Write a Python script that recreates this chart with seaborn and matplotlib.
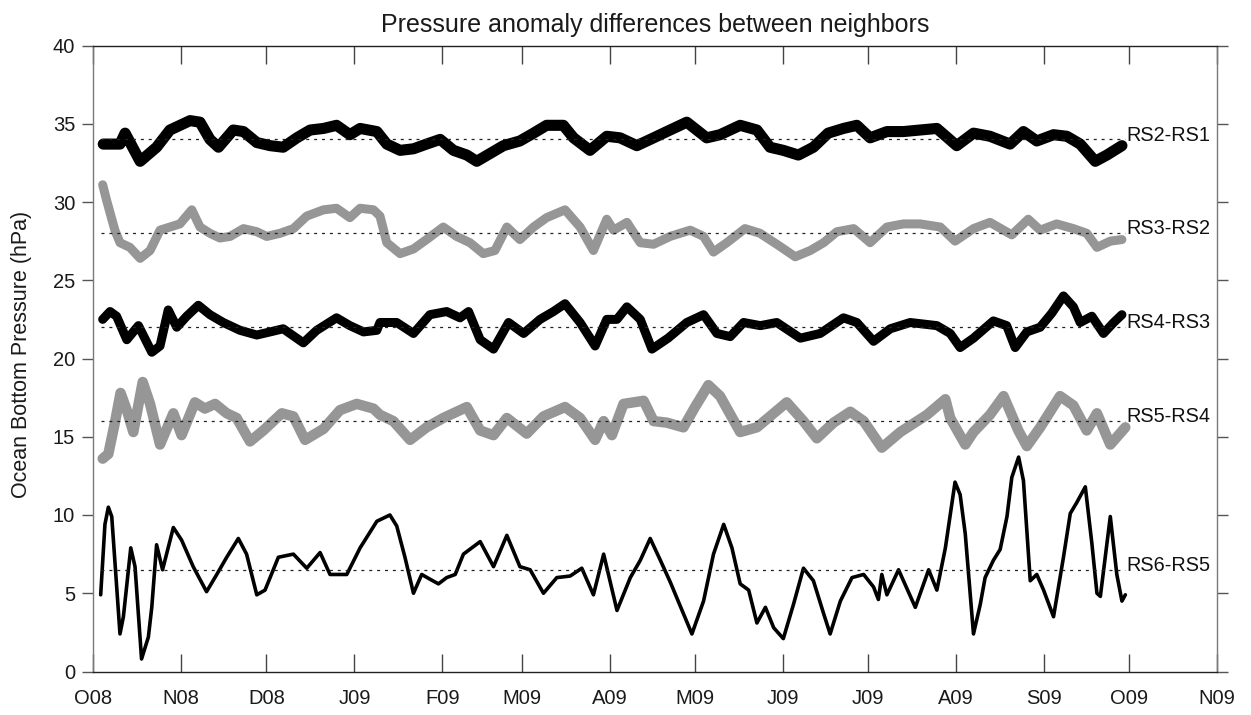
import numpy as np
import pandas as pd
import matplotlib
matplotlib.use("Agg")
import matplotlib.pyplot as plt
import matplotlib.dates as mdates
import seaborn as sns

# ---------------- data ----------------
START = pd.Timestamp("2008-10-01")
END = pd.Timestamp("2009-11-01")

month_labels = ["O08", "N08", "D08", "J09", "F09", "M09", "A09",
                "M09", "J09", "J09", "A09", "S09", "O09", "N09"]
y_ticks = [0, 5, 10, 15, 20, 25, 30, 35, 40]

series_names = ["RS2-RS1", "RS3-RS2", "RS4-RS3", "RS5-RS4", "RS6-RS5"]
ref_levels = [34.0, 28.0, 22.0, 16.0, 6.5]

# days since 2008-10-01 and hPa values
rs21_days = [3.5, 9.4, 11.2, 16.5, 22.3, 27.0, 34.1, 37.6, 41.1, 44.1, 49.3, 52.9, 57.6, 62.3,
             66.9, 71.7, 76.4, 81.1, 85.7, 90.4, 94.0, 99.9, 103.4, 108.1, 112.8, 117.4, 122.2,
             126.9, 131.6, 135.1, 139.8, 144.5, 150.3, 155.1, 159.7, 165.6, 169.2, 175.0, 180.9,
             185.6, 191.5, 197.4, 203.2, 209.1, 216.1, 220.8, 227.9, 233.8, 238.4, 243.1, 248.4,
             253.7, 258.9, 264.3, 269.0, 273.7, 279.6, 285.4, 291.3, 297.2, 304.2, 310.1, 315.9,
             323.0, 327.7, 332.4, 338.3, 343.0, 347.7, 353.0, 357.1, 362.4]
rs21_vals = [33.7, 33.7, 34.4, 32.6, 33.5, 34.6, 35.2, 35.1, 34.0, 33.5, 34.6, 34.5, 33.8, 33.6,
             33.5, 34.1, 34.6, 34.7, 34.9, 34.3, 34.7, 34.5, 33.7, 33.3, 33.4, 33.7, 34.0,
             33.3, 33.0, 32.6, 33.1, 33.6, 33.9, 34.4, 34.9, 34.9, 34.1, 33.3, 34.2,
             34.1, 33.6, 34.1, 34.6, 35.1, 34.1, 34.3, 34.9, 34.6, 33.5, 33.3, 33.0,
             33.5, 34.4, 34.7, 34.9, 34.1, 34.5, 34.5, 34.6, 34.7, 33.6, 34.4, 34.2,
             33.7, 34.5, 33.9, 34.3, 34.2, 33.7, 32.6, 33.0, 33.6]

rs32_days = [3.3, 4.7, 7.6, 9.4, 12.9, 16.5, 20.0, 23.5, 27.0, 30.5, 34.7, 37.6, 41.1, 44.6,
             48.2, 52.9, 57.6, 61.1, 65.8, 70.5, 75.2, 81.1, 85.7, 90.4, 94.0, 98.7, 101.0,
             103.4, 108.1, 112.8, 117.4, 123.3, 128.0, 132.7, 137.4, 141.5, 145.7, 150.3, 155.1,
             159.7, 166.2, 171.5, 176.2, 180.9, 183.3, 188.0, 192.7, 197.4, 203.2, 210.3, 215.0,
             218.5, 223.2, 229.6, 234.9, 240.8, 247.3, 252.6, 257.3, 262.0, 267.9, 273.7, 279.6,
             285.4, 291.3, 298.4, 303.6, 310.1, 315.9, 323.6, 329.4, 333.6, 339.4, 345.3, 350.0,
             353.6, 358.3, 362.4]
rs32_vals = [31.1, 30.1, 28.2, 27.4, 27.1, 26.4, 26.9, 28.2, 28.4, 28.6, 29.5, 28.4, 28.0, 27.7,
             27.8, 28.3, 28.1, 27.8, 28.0, 28.3, 29.1, 29.5, 29.6, 29.0, 29.6, 29.5, 29.1,
             27.4, 26.7, 27.0, 27.6, 28.4, 27.8, 27.4, 26.7, 26.9, 28.4, 27.6, 28.4,
             29.0, 29.5, 28.4, 26.9, 28.9, 28.2, 28.7, 27.4, 27.3, 27.8, 28.2, 27.8,
             26.8, 27.4, 28.3, 28.0, 27.3, 26.5, 26.9, 27.4, 28.1, 28.3, 27.4, 28.4,
             28.6, 28.6, 28.4, 27.5, 28.3, 28.7, 27.9, 28.9, 28.2, 28.6, 28.3, 28.0,
             27.1, 27.5, 27.6]

rs43_days = [3.3, 5.9, 8.2, 11.8, 15.9, 20.6, 23.5, 26.4, 29.4, 32.9, 37.0, 41.1, 45.8, 51.7,
             57.6, 62.3, 66.9, 74.0, 78.7, 85.7, 90.4, 95.2, 99.9, 101.0, 106.9, 112.8, 118.6,
             124.5, 129.2, 132.2, 136.3, 141.0, 146.3, 151.6, 157.4, 162.1, 166.2, 171.5, 176.8,
             180.9, 184.5, 188.0, 192.7, 196.8, 202.5, 209.1, 215.0, 219.7, 224.4, 229.1, 235.0,
             240.8, 249.1, 256.1, 264.3, 269.0, 274.9, 280.8, 287.8, 297.2, 301.9, 305.4, 310.1,
             317.1, 321.8, 324.8, 328.9, 333.6, 337.7, 341.8, 345.3, 347.7, 351.8, 355.9, 359.5,
             362.4]
rs43_vals = [22.5, 23.0, 22.7, 21.2, 22.1, 20.4, 20.8, 23.1, 22.0, 22.7, 23.4, 22.8, 22.3, 21.8,
             21.5, 21.7, 21.9, 21.0, 21.8, 22.6, 22.1, 21.7, 21.8, 22.3, 22.3, 21.6, 22.8,
             23.0, 22.6, 23.0, 21.2, 20.6, 22.3, 21.6, 22.5, 23.0, 23.5, 22.3, 20.8,
             22.5, 22.5, 23.3, 22.5, 20.6, 21.3, 22.3, 22.8, 21.6, 21.4, 22.3, 22.1,
             22.3, 21.3, 21.6, 22.6, 22.3, 21.1, 21.9, 22.3, 22.1, 21.6, 20.7, 21.3,
             22.4, 22.1, 20.7, 21.7, 22.0, 22.9, 24.0, 23.3, 22.3, 22.7, 21.6, 22.3,
             22.8]

rs54_days = [3.3, 5.3, 7.6, 9.6, 11.8, 14.1, 17.4, 20.0, 23.5, 28.2, 31.1, 35.8, 39.3, 42.9,
             47.0, 50.5, 55.2, 59.9, 66.4, 70.5, 74.6, 81.1, 86.9, 92.8, 98.7, 101.0, 105.7,
             111.6, 117.4, 123.3, 131.6, 136.3, 141.0, 145.7, 152.7, 158.6, 166.2, 171.5, 176.8,
             179.8, 182.7, 186.8, 193.9, 197.4, 202.1, 207.9, 212.0, 216.7, 220.8, 227.9, 233.8,
             238.4, 244.3, 250.2, 254.9, 260.8, 266.7, 271.4, 277.8, 284.3, 293.7, 300.2, 301.9,
             307.2, 310.1, 315.9, 320.7, 325.9, 328.9, 333.6, 340.6, 345.3, 350.0, 353.6, 358.3,
             363.6]
rs54_vals = [13.6, 13.9, 15.9, 17.8, 16.7, 15.3, 18.5, 17.1, 14.5, 16.5, 15.1, 17.2, 16.8, 17.1,
             16.5, 16.2, 14.7, 15.4, 16.5, 16.3, 14.8, 15.5, 16.7, 17.1, 16.8, 16.4, 16.0,
             14.8, 15.6, 16.2, 16.9, 15.4, 15.1, 16.2, 15.2, 16.3, 16.9, 16.2, 14.8,
             16.0, 15.1, 17.1, 17.3, 16.0, 15.9, 15.6, 16.9, 18.3, 17.6, 15.3, 15.6,
             16.3, 17.2, 16.0, 14.9, 15.9, 16.6, 16.0, 14.3, 15.3, 16.4, 17.4, 16.2,
             14.5, 15.3, 16.4, 17.6, 15.4, 14.4, 15.6, 17.6, 17.0, 15.4, 16.5, 14.5,
             15.6]

rs65_days = [2.6, 4.1, 5.3, 6.5, 9.4, 10.6, 13.2, 14.7, 17.0, 19.4, 20.6, 22.3, 24.4, 28.2,
             31.1, 35.2, 39.9, 43.5, 47.0, 51.1, 54.0, 57.6, 60.5, 65.2, 70.5, 75.2, 79.9,
             83.4, 89.3, 94.0, 99.9, 104.5, 106.9, 109.8, 112.8, 115.7, 118.6, 121.6, 124.5,
             127.5, 130.4, 136.3, 141.0, 145.7, 150.3, 153.9, 158.6, 163.3, 168.0, 172.1, 176.2,
             179.8, 184.5, 189.2, 192.7, 196.2, 199.8, 203.3, 207.9, 210.9, 215.0, 218.5, 222.1,
             225.0, 227.9, 230.9, 233.8, 236.8, 239.7, 243.1, 246.7, 250.2, 253.7, 257.3, 259.6,
             263.2, 267.3, 271.4, 274.9, 276.6, 277.8, 279.6, 283.7, 289.6, 294.3, 297.2, 300.2,
             303.6, 305.4, 307.2, 310.1, 312.5, 314.2, 317.1, 319.5, 321.9, 323.6, 326.0, 327.7,
             330.1, 332.4, 334.8, 338.3, 341.8, 344.2, 346.5, 349.5, 351.8, 353.6, 354.8, 358.3,
             360.6, 362.4, 363.6]
rs65_vals = [4.9, 9.4, 10.5, 9.9, 2.4, 3.5, 7.9, 6.7, 0.8, 2.2, 4.1, 8.1, 6.5, 9.2,
             8.4, 6.7, 5.1, 6.2, 7.3, 8.5, 7.5, 4.9, 5.2, 7.3, 7.5, 6.6, 7.6,
             6.2, 6.2, 7.9, 9.6, 10.0, 9.3, 7.3, 5.0, 6.2, 5.9, 5.6, 6.0,
             6.2, 7.5, 8.3, 6.7, 8.7, 6.7, 6.5, 5.0, 6.0, 6.1, 6.6, 4.9,
             7.5, 3.9, 6.0, 7.1, 8.5, 7.1, 5.7, 3.7, 2.4, 4.5, 7.5, 9.4,
             7.9, 5.6, 5.2, 3.1, 4.1, 2.8, 2.1, 4.3, 6.6, 5.8, 3.7, 2.4,
             4.5, 6.0, 6.2, 5.4, 4.6, 6.2, 4.9, 6.5, 4.1, 6.5, 5.2, 7.9,
             12.1, 11.3, 8.8, 2.4, 4.3, 6.0, 7.1, 7.8, 9.9, 12.4, 13.7, 12.2,
             5.8, 6.2, 5.2, 3.5, 7.3, 10.1, 10.8, 11.8, 8.2, 5.0, 4.8, 9.9,
             6.2, 4.5, 4.9]

all_days = [rs21_days, rs32_days, rs43_days, rs54_days, rs65_days]
all_vals = [rs21_vals, rs32_vals, rs43_vals, rs54_vals, rs65_vals]

# ---------------- styling ----------------
BLACK = "#000000"
GREY = "#969696"
line_colors = [BLACK, GREY, BLACK, GREY, BLACK]
line_widths = [8.0, 6.5, 6.5, 7.5, 2.6]

sns.set_theme(style="ticks")
plt.rcParams["font.family"] = ["Liberation Sans", "DejaVu Sans"]
plt.rcParams["axes.linewidth"] = 1.0

frames = []
for name, d, v in zip(series_names, all_days, all_vals):
    frames.append(pd.DataFrame({
        "date": START + pd.to_timedelta(np.asarray(d, dtype=float), unit="D"),
        "value": v,
        "pair": name,
    }))
df = pd.concat(frames, ignore_index=True)

W, H = 1251, 715
fig = plt.figure(figsize=(W / 100, H / 100), dpi=100)
L, R, T, B = 93.3, 1217.3, 45.5, 671.5
ax = fig.add_axes([L / W, 1 - B / H, (R - L) / W, (B - T) / H])

for name, col, lw in zip(series_names, line_colors, line_widths):
    sub = df[df["pair"] == name]
    sns.lineplot(data=sub, x="date", y="value", color=col, linewidth=lw,
                 estimator=None, sort=False, ax=ax, legend=False, zorder=2)

# dotted reference levels across the data span
x_first = mdates.date2num(df["date"].min())
x_last = mdates.date2num(df["date"].max())
for ref in ref_levels:
    ax.hlines(ref, x_first, x_last, colors="#222222", linestyles=(0, (2.4, 3.9)),
              linewidth=0.9, zorder=3)

# pair labels at the right end of each series
for name, ref in zip(series_names, ref_levels):
    ax.annotate(name, xy=(x_last, ref), xytext=(0.6, -0.8), textcoords="offset points",
                ha="left", va="baseline", fontsize=14.3, color="#111111", zorder=4)

ax.set_xlim(mdates.date2num(START), mdates.date2num(END))
ax.set_ylim(0, 40)
month_ticks = pd.date_range(START, END, freq="MS")
ax.set_xticks(mdates.date2num(month_ticks))
ax.set_xticklabels(month_labels)
ax.set_yticks(y_ticks)
ax.set_yticklabels([str(t) for t in y_ticks])

ax.tick_params(axis="x", which="major", direction="in", length=13, width=1,
               top=True, bottom=True, labeltop=False, labelsize=14.5,
               pad=12.5, colors="#444444", labelcolor="#1a1a1a")
ax.tick_params(axis="y", which="major", direction="out", length=8, width=1,
               left=True, right=True, labelright=False, labelsize=14.5,
               pad=5, colors="#555555", labelcolor="#1a1a1a")
ax.minorticks_off()

for side in ["left", "right"]:
    ax.spines[side].set_color("#7a7a7a")
for side in ["top", "bottom"]:
    ax.spines[side].set_color("#222222")
for s in ax.spines.values():
    s.set_visible(True)
    s.set_linewidth(1.0)

ax.set_xlabel("")
ax.set_ylabel("Ocean Bottom Pressure (hPa)", fontsize=15.5, color="#1a1a1a")
ax.yaxis.set_label_coords(-0.0545, 0.507)
ax.set_title("Pressure anomaly differences between neighbors", fontsize=18,
             color="#1a1a1a", pad=10)
ax.grid(False)

fig.savefig("out.png", dpi=100, facecolor="white")
